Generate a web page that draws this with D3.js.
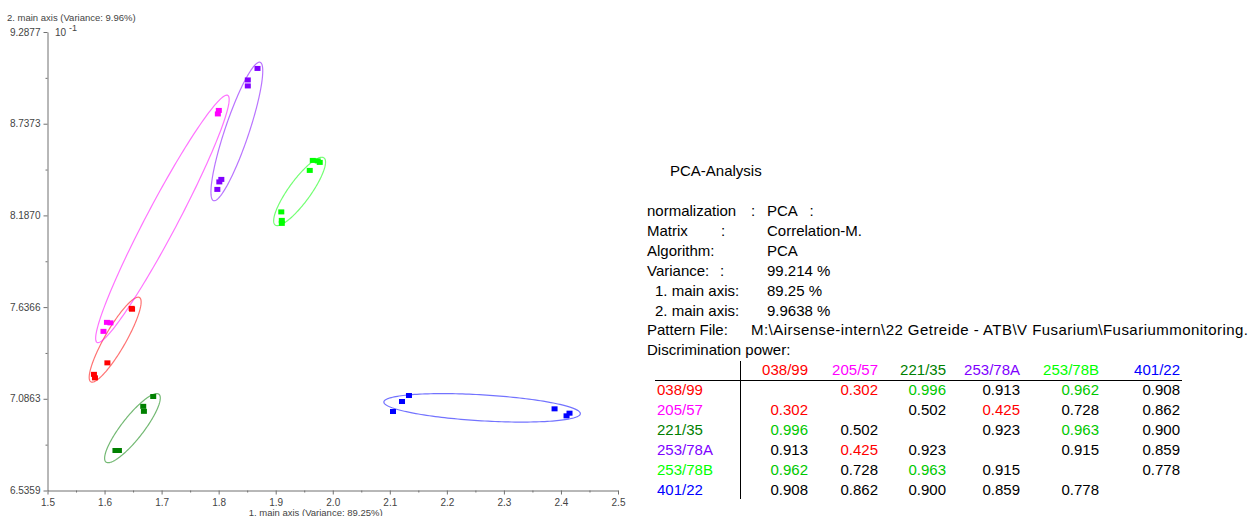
<!DOCTYPE html>
<html>
<head>
<meta charset="utf-8">
<script src="https://cdn.jsdelivr.net/npm/d3@7"></script>
<style>
  html, body { margin: 0; padding: 0; background: #fff; }
  svg { display: block; font-family: "Liberation Sans", Arial, sans-serif; }
</style>
</head>
<body>
<svg id="chart" width="1255" height="516"></svg>
<script>
// ---------- data ----------
const groups = ["038/99", "205/57", "221/35", "253/78A", "253/78B", "401/22"];
const groupColors = ["#ff0000", "#ff00ff", "#008000", "#8000ff", "#00ff00", "#0000ff"];

const pts038_99 = [[1.6475, 7.629], [1.6482, 7.624], [1.605, 7.302], [1.5814, 7.233], [1.5832, 7.212]];
const pts205_57 = [[1.6042, 7.545], [1.6103, 7.542], [1.5981, 7.491], [1.8003, 8.817], [1.7986, 8.796]];
const pts221_35 = [[1.6853, 7.100], [1.6678, 7.041], [1.669, 7.011], [1.6191, 6.776], [1.6252, 6.776]];
const pts253_78A = [[1.8681, 9.069], [1.8511, 9.000], [1.8511, 8.964], [1.8047, 8.403], [1.8012, 8.388], [1.7977, 8.343]];
const pts253_78B = [[1.965, 8.517], [1.9737, 8.514], [1.9772, 8.505], [1.9597, 8.457], [1.9098, 8.208], [1.9107, 8.157], [1.9107, 8.139]];
const pts401_22 = [[2.1336, 7.106], [2.1214, 7.070], [2.1056, 7.010], [2.3888, 7.026], [2.415, 7.000], [2.4098, 6.984]];
const groupPoints = [pts038_99, pts205_57, pts221_35, pts253_78A, pts253_78B, pts401_22];

// ellipse: centre, semi-major vector, semi-minor vector (data units)
const ellipseCenter = [[1.6186, 7.4412], [1.7014, 8.1659], [1.6489, 6.9102], [1.8319, 8.6908], [1.9419, 8.3308], [2.2618, 7.0320]];
const ellipseAxisA  = [[0.04264, 0.25299], [0.11454, 0.74149], [0.04636, 0.20326], [0.04079, 0.41514], [0.04272, 0.20140], [0.17219, -0.03504]];
const ellipseAxisB  = [[0.01592, -0.03150], [0.02399, -0.04349], [0.01518, -0.04063], [0.01993, -0.02298], [0.01558, -0.03879], [-0.00135, -0.07786]];

const xDomain = [1.5, 2.5];
const xTicks = [1.5, 1.6, 1.7, 1.8, 1.9, 2.0, 2.1, 2.2, 2.3, 2.4, 2.5];
const xTickLabels = ["1.5", "1.6", "1.7", "1.8", "1.9", "2.0", "2.1", "2.2", "2.3", "2.4", "2.5"];
const yDomain = [6.5359, 9.2877];
const yTicks = [6.5359, 7.0863, 7.6366, 8.1870, 8.7373, 9.2877];
const yTickLabels = ["6.5359", "7.0863", "7.6366", "8.1870", "8.7373", "9.2877"];

const xTitle = "1. main axis (Variance: 89.25%)";
const yTitle = "2. main axis (Variance: 9.96%)";

const infoTitle = "PCA-Analysis";
const infoLabels = ["normalization", "Matrix", "Algorithm:", "Variance:", "1. main axis:", "2. main axis:", "Pattern File:"];
const infoColons = [":", ":", "", ":", "", "", ""];
const infoValues = ["PCA   :", "Correlation-M.", "PCA", "99.214 %", "89.25 %", "9.9638 %", "M:\\Airsense-intern\\22 Getreide - ATB\\V Fusarium\\Fusariummonitoring."];
const discTitle = "Discrimination power:";
const discMatrix = [
  [null, 0.302, 0.996, 0.913, 0.962, 0.908],
  [0.302, null, 0.502, 0.425, 0.728, 0.862],
  [0.996, 0.502, null, 0.923, 0.963, 0.900],
  [0.913, 0.425, 0.923, null, 0.915, 0.859],
  [0.962, 0.728, 0.963, 0.915, null, 0.778],
  [0.908, 0.862, 0.900, 0.859, 0.778, null]
];

// ---------- chart ----------
const svg = d3.select("#chart");
svg.append("rect").attr("width", 1255).attr("height", 516).attr("fill", "#fff");

const x = d3.scaleLinear().domain(xDomain).range([47.5, 618]);
const y = d3.scaleLinear().domain(yDomain).range([490.5, 32]);

const axisColor = "#707070";
const labelColor = "#444";

// minor ticks
const xMinor = d3.range(0, 10).map(i => xDomain[0] + 0.05 + i * 0.1);
const yMinor = d3.range(0, 5).map(i => (yTicks[i] + yTicks[i + 1]) / 2);

svg.append("g").attr("transform", "translate(0,490.5)")
  .call(d3.axisBottom(x).tickValues(xTicks).tickFormat((d, i) => xTickLabels[i]).tickSize(4).tickSizeOuter(0).tickPadding(4));
svg.append("g").attr("transform", "translate(0,490.5)")
  .call(d3.axisBottom(x).tickValues(xMinor).tickFormat("").tickSize(2).tickSizeOuter(0))
  .select(".domain").remove();
svg.append("g").attr("transform", "translate(47.5,0)")
  .call(d3.axisLeft(y).tickValues(yTicks).tickFormat((d, i) => yTickLabels[i]).tickSize(4).tickSizeOuter(0).tickPadding(3));
svg.append("g").attr("transform", "translate(47.5,0)")
  .call(d3.axisLeft(y).tickValues(yMinor).tickFormat("").tickSize(2).tickSizeOuter(0))
  .select(".domain").remove();

svg.selectAll(".domain, .tick line").attr("stroke", axisColor);
svg.selectAll(".tick text").attr("fill", labelColor).attr("font-size", 10)
  .attr("font-family", "'Liberation Sans', Arial, sans-serif");

// axis titles
svg.append("text").attr("x", 7).attr("y", 21).attr("font-size", 9.5).attr("fill", labelColor).text(yTitle);
const expo = svg.append("text").attr("x", 55).attr("y", 36).attr("font-size", 10).attr("fill", labelColor);
expo.append("tspan").text("10 ");
expo.append("tspan").attr("dy", -5).attr("font-size", 9).text("-1");
svg.append("text").attr("x", x(1.97)).attr("y", 515.5).attr("text-anchor", "middle")
  .attr("font-size", 9.5).attr("fill", labelColor).text(xTitle);

// ellipses
const line = d3.line().x(d => x(d[0])).y(d => y(d[1])).curve(d3.curveLinearClosed);
const tSteps = d3.range(0, 180).map(i => i / 180 * 2 * Math.PI);
groups.forEach((g, gi) => {
  const c = ellipseCenter[gi], a = ellipseAxisA[gi], b = ellipseAxisB[gi];
  const ring = tSteps.map(t => [c[0] + Math.cos(t) * a[0] + Math.sin(t) * b[0],
                                c[1] + Math.cos(t) * a[1] + Math.sin(t) * b[1]]);
  svg.append("path").attr("d", line(ring)).attr("fill", "none")
    .attr("stroke", groupColors[gi]).attr("stroke-opacity", 0.55).attr("stroke-width", 1.2);
});

// points
groups.forEach((g, gi) => {
  svg.append("g").selectAll("rect").data(groupPoints[gi]).join("rect")
    .attr("x", d => x(d[0]) - 3).attr("y", d => y(d[1]) - 2.5)
    .attr("width", 6).attr("height", 5).attr("fill", groupColors[gi]);
});

// ---------- info panel ----------
const fs = 15;
const info = svg.append("g").attr("font-size", fs).attr("fill", "#000");
info.append("text").attr("x", 670).attr("y", 176).text(infoTitle);
const labelX = [647, 647, 647, 647, 655, 655, 647];
const colonX = [751, 721, 0, 720, 0, 0, 0];
infoLabels.forEach((l, i) => {
  const by = 216 + i * 19.9;
  info.append("text").attr("x", labelX[i]).attr("y", by).text(l);
  if (infoColons[i]) info.append("text").attr("x", colonX[i]).attr("y", by).text(infoColons[i]);
  const t = info.append("text").attr("x", i === 6 ? 751 : 767).attr("y", by).style("white-space", "pre").text(infoValues[i]);
  if (i === 6) t.attr("textLength", 497).attr("lengthAdjust", "spacing");
});
info.append("text").attr("x", 647).attr("y", 355).text(discTitle);

const colRight = [808, 878, 946, 1020, 1099, 1180];
const headY = 375;
groups.forEach((g, i) => {
  info.append("text").attr("x", colRight[i]).attr("y", headY).attr("text-anchor", "end")
    .attr("fill", groupColors[i]).text(g);
  info.append("text").attr("x", 657).attr("y", headY + 20 * (i + 1)).attr("fill", groupColors[i]).text(g);
});
const valColor = v => v < 0.5 ? "#ff0000" : (v > 0.95 ? "#00c800" : "#000");
discMatrix.forEach((row, ri) => {
  row.forEach((v, ci) => {
    if (v === null) return;
    info.append("text").attr("x", colRight[ci]).attr("y", headY + 20 * (ri + 1)).attr("text-anchor", "end")
      .attr("fill", valColor(v)).text(v.toFixed(3));
  });
});
svg.append("line").attr("x1", 655).attr("x2", 1182).attr("y1", 380.5).attr("y2", 380.5).attr("stroke", "#000");
svg.append("line").attr("x1", 740.5).attr("x2", 740.5).attr("y1", 361).attr("y2", 499).attr("stroke", "#000");
</script>
</body>
</html>
